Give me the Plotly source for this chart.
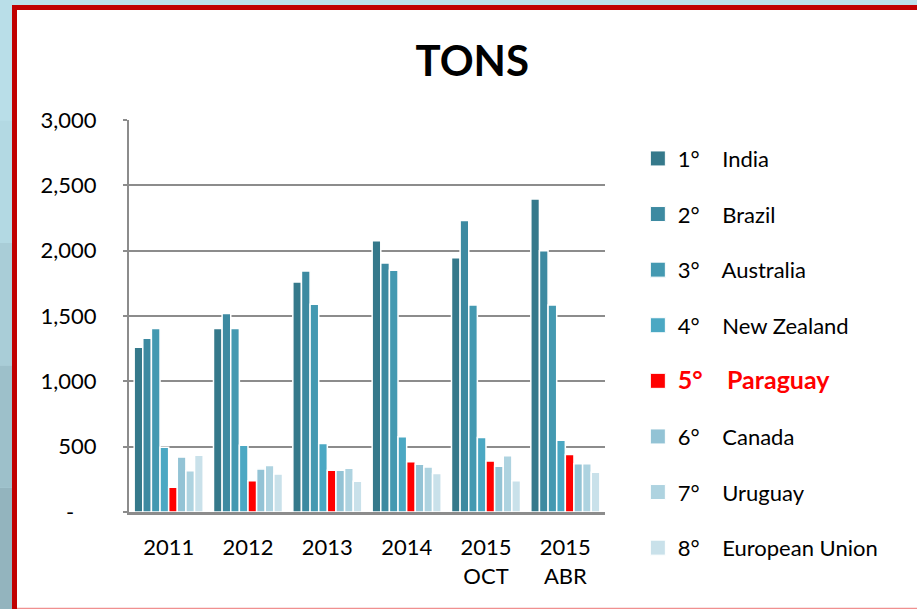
import plotly.graph_objects as go

# tons by year, top 8 producers
categories = ["2011", "2012", "2013", "2014", "2015<br>OCT", "2015<br>ABR"]
india = [1260, 1405, 1760, 2075, 1945, 2395]
brazil = [1330, 1520, 1845, 1905, 2230, 2000]
australia = [1405, 1405, 1590, 1850, 1585, 1585]
new_zealand = [495, 510, 525, 575, 570, 550]
paraguay = [190, 240, 320, 385, 390, 440]
canada = [420, 330, 320, 365, 350, 370]
uruguay = [315, 355, 335, 345, 430, 370]
european_union = [435, 290, 235, 295, 240, 305]

y_ticks = [0, 500, 1000, 1500, 2000, 2500, 3000]
y_ticktext = ["-\u00a0\u00a0\u00a0\u00a0", "500", "1,000", "1,500", "2,000", "2,500", "3,000"]

sp = "\u00a0\u00a0\u00a0\u00a0"
series = [
    ("1°" + sp + "India", india, "#35798B"),
    ("2°" + sp + "Brazil", brazil, "#3D8AA1"),
    ("3°" + sp + "Australia", australia, "#4499B1"),
    ("4°" + sp + "New Zealand", new_zealand, "#4BA8C3"),
    ("<b><span style='color:#FF0000;font-size:25px'>5°" + sp + "Paraguay</span></b>", paraguay, "#FF0000"),
    ("6°" + sp + "Canada", canada, "#93C3D5"),
    ("7°" + sp + "Uruguay", uruguay, "#AED3E0"),
    ("8°" + sp + "European Union", european_union, "#C9E1EA"),
]

fig = go.Figure()
for i, (name, vals, col) in enumerate(series):
    fig.add_trace(go.Bar(x=categories, y=vals, name=name, showlegend=False,
                         marker=dict(color=col, line=dict(color="white", width=1.5))))
# legend entries with bigger square keys
for i, (name, vals, col) in enumerate(series):
    fig.add_trace(go.Scatter(x=[None], y=[None], mode="markers", name=name, legendgroup=str(i),
                             marker=dict(symbol="square", size=15, color=col,
                                         line=dict(color="white", width=1))))

grid = "#8C8C8C"
shapes = [
    dict(type="rect", xref="paper", yref="paper", x0=-0.2353, x1=1.7, y0=-0.2449, y1=1.2806,
         fillcolor="white", line=dict(width=0), layer="below"),
    dict(type="rect", xref="paper", yref="paper", x0=-0.2458, x1=-0.2353, y0=-0.25, y1=1.2934,
         fillcolor="#C00000", line=dict(width=0), layer="below"),
    dict(type="rect", xref="paper", yref="paper", x0=-0.2458, x1=1.7, y0=1.2806, y1=1.2934,
         fillcolor="#C00000", line=dict(width=0), layer="below"),
    dict(type="rect", xref="paper", yref="paper", x0=-0.2353, x1=1.7, y0=-0.2474, y1=-0.2440,
         fillcolor="#F09090", line=dict(width=0), layer="below"),
]
# left strip of the slide background, darker towards the bottom
strip = ["#B9DEE8", "#B3D9E3", "#A9CDD7", "#9DC0CA", "#93B4BE"]
for k, c in enumerate(strip):
    y1 = 1.31 - k * 0.312
    shapes.append(dict(type="rect", xref="paper", yref="paper", x0=-0.3, x1=-0.2458,
                       y0=y1 - 0.312, y1=y1, fillcolor=c, line=dict(width=0), layer="below"))

fig.update_layout(
    width=917, height=609,
    margin=dict(l=129, r=312, t=120, b=97),
    paper_bgcolor="#BCE0E9", plot_bgcolor="white",
    font=dict(family="Lato", size=22, color="black"),
    title=dict(text="<b>TONS</b>", x=0.515, xanchor="center", y=0.9, yanchor="middle",
               font=dict(size=42, color="black")),
    barmode="group", bargap=0.13, bargroupgap=0,
    showlegend=True,
    legend=dict(x=1.069, xanchor="left", y=0.955, yanchor="top", traceorder="grouped",
                tracegroupgap=24, font=dict(size=22), bgcolor="rgba(0,0,0,0)",
                maxheight=560),
    shapes=shapes,
)
fig.update_yaxes(range=[0, 3000], tickvals=y_ticks, ticktext=y_ticktext,
                 showgrid=True, gridcolor=grid, gridwidth=2, zeroline=False,
                 showline=True, linecolor=grid, linewidth=2,
                 ticks="outside", ticklen=4, tickcolor=grid, tickwidth=2,
                 ticklabelstandoff=22)
fig.update_xaxes(showline=True, linecolor=grid, linewidth=3, ticks="",
                 ticklabelstandoff=14)

fig.write_html("out.html", config={"displayModeBar": False},
               post_script="document.body.style.margin='0';")
